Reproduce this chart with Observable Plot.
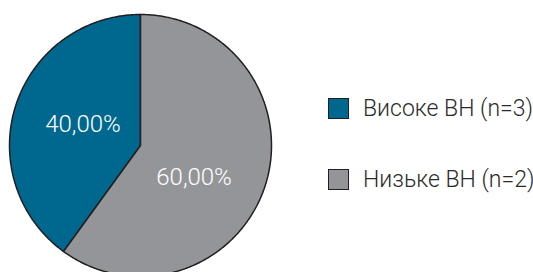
<!DOCTYPE html>
<html>
<head>
<meta charset="utf-8">
<script src="https://cdn.jsdelivr.net/npm/d3@7"></script>
<script src="https://cdn.jsdelivr.net/npm/@observablehq/plot@0.6"></script>
<style>
  html, body { margin: 0; padding: 0; background: #fff; }
  #wrap { position: relative; width: 533px; height: 272px; overflow: hidden; font-family: Roboto, "Noto Sans", sans-serif; }
  #wrap svg { display: block; }
  .leg { position: absolute; left: 328px; display: flex; align-items: center; font-weight: 300; font-size: 23px; color: #2a2a2a; white-space: nowrap; }
  .sw { width: 19px; height: 19px; border: 1px solid #231f20; margin-right: 14px; box-sizing: content-box; }
</style>
</head>
<body>
<div id="wrap"></div>
<script>
const categories = ["Високе ВН (n=3)", "Низьке ВН (n=2)"];
const shares = [40, 60];
const labels = ["40,00%", "60,00%"];
const colors = ["#00678f", "#939598"];

// slice geometry (angles clockwise from top); first slice ends at top
const total = d3.sum(shares);
let start = -shares[0] / total * 360;
const pts = [];
const mids = [];
categories.forEach((c, i) => {
  const end = start + shares[i] / total * 360;
  pts.push({cat: c, x: 0, y: 0});
  const n = Math.ceil(end - start) * 2;
  for (let k = 0; k <= n; k++) {
    const a = (start + (end - start) * k / n) * Math.PI / 180;
    pts.push({cat: c, x: Math.sin(a), y: Math.cos(a)});
  }
  pts.push({cat: c, x: 0, y: 0});
  const m = (start + end) / 2 * Math.PI / 180;
  mids.push({cat: c, label: labels[i], x: 0.47 * Math.sin(m), y: 0.47 * Math.cos(m)});
  start = end;
});

const R = 131, cx = 140, cy = 145, W = 533, H = 272;
const chart = Plot.plot({
  width: W, height: H,
  margin: 0,
  x: {domain: [-cx / R, (W - cx) / R], axis: null},
  y: {domain: [-(H - cy) / R, cy / R], axis: null},
  color: {domain: categories, range: colors},
  marks: [
    Plot.line(pts, {x: "x", y: "y", z: "cat", fill: "cat", stroke: "#231f20", strokeWidth: 1.5, strokeLinejoin: "round"}),
    Plot.text(mids.filter(d => d.cat === categories[0]), {x: "x", y: "y", text: "label", fill: "white", fontSize: 24, fontWeight: 300, dx: 1, dy: -2}),
    Plot.text(mids.filter(d => d.cat === categories[1]), {x: "x", y: "y", text: "label", fill: "white", fontSize: 24, fontWeight: 300, dx: -5, dy: 13})
  ],
  style: {fontFamily: "Roboto, 'Noto Sans', sans-serif"}
});
const wrap = document.getElementById("wrap");
wrap.appendChild(chart);

const tops = [98, 169];
categories.forEach((c, i) => {
  const d = document.createElement("div");
  d.className = "leg";
  d.style.top = tops[i] + "px";
  d.style.height = "21px";
  const s = document.createElement("div");
  s.className = "sw";
  s.style.background = colors[i];
  const t = document.createElement("span");
  t.textContent = c;
  d.appendChild(s); d.appendChild(t);
  wrap.appendChild(d);
});
</script>
</body>
</html>
